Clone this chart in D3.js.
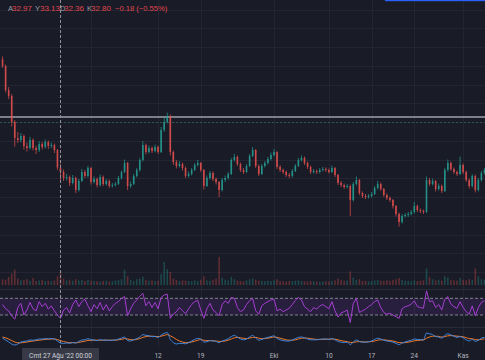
<!DOCTYPE html>
<html><head><meta charset="utf-8">
<script src="https://cdn.jsdelivr.net/npm/d3@7"></script>
<style>html,body{margin:0;padding:0;background:#191b26;overflow:hidden}svg{display:block}</style>
</head><body>
<svg id="c" width="485" height="360"></svg>
<script>
// ---------- data (12h candles starting 17 Aug 2022 12:00) ----------
const firstCandle = "2022-08-17T12:00:00Z";
const candleHours = 12;
const opens = [
37.30,37.04,36.08,35.84,34.80,34.16,34.08,34.24,33.84,33.76,
34.08,33.76,33.68,33.92,33.80,34.00,33.84,33.88,33.68,32.97,
32.80,32.56,32.60,32.36,32.56,32.08,32.44,32.80,32.64,32.96,
32.40,32.52,32.28,32.60,32.32,32.44,32.24,32.28,32.32,32.56,
32.80,33.16,32.24,32.32,32.64,32.88,33.28,33.88,33.60,33.76,
33.64,33.80,33.60,34.48,34.80,35.04,33.60,33.20,33.04,33.12,
32.96,32.64,32.72,32.88,33.08,33.16,32.88,32.24,32.56,32.76,
32.52,32.40,32.08,32.48,32.56,32.72,33.28,33.40,33.12,32.88,
32.80,33.04,33.44,33.68,33.04,32.72,33.04,33.16,33.32,33.48,
33.60,33.00,32.88,32.80,32.68,32.64,32.84,33.04,33.28,33.36,
33.16,33.00,32.80,32.84,32.80,32.88,32.92,32.88,32.80,32.96,
32.68,32.36,32.28,32.20,32.24,31.68,32.32,32.48,31.96,31.84,
31.80,31.84,31.92,32.16,32.32,32.12,31.88,31.76,31.68,31.44,
31.12,30.80,31.04,31.08,31.12,31.20,31.44,31.28,31.24,31.20,
32.48,32.32,32.44,32.12,32.24,32.04,32.88,33.16,32.92,32.80,
32.72,33.08,32.80,32.48,32.24,32.64,32.08,32.48,32.76];
const highs = [
37.42,37.10,36.20,35.92,34.88,34.40,34.36,34.30,33.98,34.20,
34.14,33.86,34.04,34.00,34.10,34.06,33.98,33.94,33.72,33.13,
32.90,32.72,32.66,32.68,32.62,32.52,32.92,32.88,33.04,33.00,
32.62,32.58,32.70,32.66,32.52,32.50,32.36,32.40,32.64,32.86,
33.30,33.20,32.42,32.72,32.96,33.36,34.04,33.94,33.86,33.82,
33.90,33.86,34.60,34.98,35.18,35.10,33.66,33.28,33.24,33.18,
33.02,32.82,32.96,33.16,33.28,33.20,32.92,32.66,32.84,32.82,
32.58,32.44,32.56,32.66,32.80,33.36,33.52,33.46,33.18,32.96,
33.12,33.52,33.80,33.72,33.10,33.12,33.24,33.40,33.58,33.72,
33.64,33.08,32.94,32.86,32.76,32.92,33.12,33.36,33.46,33.42,
33.22,33.06,32.92,32.90,32.96,33.00,32.98,32.94,33.06,33.00,
32.72,32.44,32.34,32.32,32.30,32.40,32.62,32.52,32.02,31.92,
31.92,32.00,32.24,32.44,32.38,32.16,31.94,31.82,31.72,31.48,
31.18,31.12,31.16,31.20,31.28,31.60,31.50,31.34,31.30,32.62,
32.56,32.54,32.48,32.34,32.30,32.96,33.30,33.22,32.98,32.86,
33.42,33.14,32.86,32.54,32.72,32.70,32.56,32.84,32.96];
const lows = [
36.96,35.98,35.72,34.62,33.82,33.96,33.98,33.70,33.62,33.70,
33.66,33.52,33.60,33.70,33.74,33.72,33.76,33.56,32.88,32.36,
32.44,32.46,32.24,32.30,31.96,32.02,32.40,32.56,32.58,32.30,
32.34,32.18,32.22,32.24,32.26,32.16,32.18,32.22,32.28,32.50,
32.76,32.08,32.16,32.28,32.58,32.82,33.22,33.50,33.54,33.56,
33.58,33.52,33.56,34.40,34.74,33.46,33.08,32.94,32.98,32.86,
32.56,32.58,32.66,32.84,33.02,32.80,32.10,32.20,32.50,32.44,
32.30,31.80,32.02,32.40,32.50,32.68,33.22,33.04,32.80,32.72,
32.76,33.00,33.40,32.96,32.64,32.68,32.98,33.10,33.26,33.42,
32.92,32.80,32.72,32.60,32.56,32.58,32.80,33.00,33.22,33.08,
32.92,32.72,32.74,32.72,32.74,32.82,32.80,32.74,32.76,32.60,
32.28,32.20,32.12,32.14,31.04,31.62,32.26,31.88,31.76,31.72,
31.74,31.78,31.88,32.10,32.04,31.80,31.68,31.60,31.34,31.02,
30.62,30.74,30.98,31.00,31.06,31.14,31.20,31.16,31.12,31.16,
32.24,32.26,32.02,32.06,31.96,32.00,32.82,32.84,32.72,32.64,
32.68,32.72,32.40,32.14,32.18,31.98,32.02,32.42,32.70];
const closes = [
37.04,36.08,35.84,34.80,34.16,34.08,34.24,33.84,33.76,34.08,
33.76,33.68,33.92,33.80,34.00,33.84,33.88,33.68,32.98,32.80,
32.56,32.60,32.36,32.56,32.08,32.44,32.80,32.64,32.96,32.40,
32.52,32.28,32.60,32.32,32.44,32.24,32.28,32.32,32.56,32.80,
33.16,32.24,32.32,32.64,32.88,33.28,33.88,33.60,33.76,33.64,
33.80,33.60,34.48,34.80,35.04,33.60,33.20,33.04,33.12,32.96,
32.64,32.72,32.88,33.08,33.16,32.88,32.24,32.56,32.76,32.52,
32.40,32.08,32.48,32.56,32.72,33.28,33.40,33.12,32.88,32.80,
33.04,33.44,33.68,33.04,32.72,33.04,33.16,33.32,33.48,33.60,
33.00,32.88,32.80,32.68,32.64,32.84,33.04,33.28,33.36,33.16,
33.00,32.80,32.84,32.80,32.88,32.92,32.88,32.80,32.96,32.68,
32.36,32.28,32.20,32.24,31.68,32.32,32.48,31.96,31.84,31.80,
31.84,31.92,32.16,32.32,32.12,31.88,31.76,31.68,31.44,31.12,
30.80,31.04,31.08,31.12,31.20,31.44,31.28,31.24,31.20,32.48,
32.32,32.44,32.12,32.24,32.04,32.88,33.16,32.92,32.80,32.72,
33.08,32.80,32.48,32.24,32.64,32.08,32.48,32.76,32.88];
const volumes = [
20,18,28,40,53,22,16,18,20,15,
24,14,16,18,14,15,13,16,30,47,
22,16,18,15,20,16,17,14,18,15,
14,13,12,14,15,12,13,16,18,20,
53,30,18,14,20,22,28,18,15,16,
14,15,38,80,55,45,22,18,14,16,
15,14,13,16,14,18,30,16,15,18,
22,97,25,18,16,28,20,15,14,13,
16,20,22,18,15,14,13,15,14,16,
20,14,13,12,14,13,15,16,14,13,
12,14,13,12,11,12,13,12,14,16,
22,18,15,16,47,26,18,20,14,15,
13,14,16,18,15,14,16,15,18,20,
24,18,15,14,13,16,14,15,16,57,
28,20,16,18,15,30,26,18,16,15,
24,18,16,20,18,57,30,20,18];
const rsiValues = [
55,45,40,28,20,48,58,30,42,60,
45,40,62,50,58,44,52,40,30,22,
42,48,35,55,66,50,62,68,52,38,
55,45,60,42,55,40,50,58,62,70,
74,28,45,58,66,75,82,52,62,48,
60,45,72,78,80,22,32,38,48,40,
33,45,55,62,65,42,22,45,58,42,
36,28,55,64,58,72,70,48,38,42,
55,64,70,40,32,52,58,62,66,68,
40,44,38,42,46,55,65,72,66,50,
44,38,48,44,52,55,50,45,62,40,
25,35,38,42,12,58,70,36,40,44,
50,55,62,66,48,36,32,34,30,26,
22,45,50,52,56,64,50,48,46,88,
62,64,48,55,42,68,74,56,50,46,
62,48,38,32,52,28,48,60,64];
const macdValues = [
0.05,-0.05,-0.15,-0.25,-0.30,-0.25,-0.15,-0.12,-0.10,-0.05,
-0.06,-0.04,0.00,0.00,0.02,0.01,0.02,0.00,-0.10,-0.20,
-0.22,-0.20,-0.22,-0.18,-0.20,-0.12,-0.05,-0.04,0.02,-0.04,
-0.05,-0.08,-0.04,-0.06,-0.05,-0.07,-0.06,-0.05,0.00,0.04,
0.10,-0.08,-0.10,-0.04,0.02,0.10,0.22,0.18,0.16,0.12,
0.12,0.08,0.20,0.28,0.32,-0.02,-0.18,-0.25,-0.22,-0.22,
-0.24,-0.18,-0.10,-0.02,0.03,0.00,-0.15,-0.14,-0.08,-0.10,
-0.12,-0.18,-0.10,-0.05,0.02,0.12,0.18,0.10,0.00,-0.04,
0.00,0.10,0.18,0.05,-0.06,-0.02,0.04,0.08,0.12,0.16,
0.02,-0.04,-0.08,-0.10,-0.10,-0.05,0.02,0.08,0.10,0.06,
0.00,-0.04,-0.04,-0.04,-0.02,0.00,0.00,-0.02,0.02,-0.04,
-0.12,-0.16,-0.18,-0.16,-0.28,-0.15,-0.05,-0.12,-0.16,-0.16,
-0.14,-0.10,-0.02,0.04,0.00,-0.06,-0.10,-0.12,-0.16,-0.22,
-0.28,-0.20,-0.15,-0.10,-0.06,0.00,-0.02,-0.03,-0.04,0.30,
0.26,0.22,0.12,0.10,0.04,0.18,0.26,0.20,0.14,0.08,
0.12,0.06,-0.04,-0.10,-0.02,-0.12,-0.06,0.04,0.08];
const signalValues = [
0.10,0.06,0.00,-0.08,-0.15,-0.19,-0.19,-0.17,-0.15,-0.12,
-0.10,-0.08,-0.06,-0.04,-0.02,-0.01,0.00,0.00,-0.03,-0.08,
-0.13,-0.16,-0.18,-0.18,-0.19,-0.17,-0.14,-0.11,-0.07,-0.06,
-0.06,-0.06,-0.06,-0.06,-0.06,-0.06,-0.06,-0.06,-0.04,-0.02,
0.02,0.00,-0.03,-0.04,-0.02,0.02,0.08,0.12,0.14,0.14,
0.13,0.12,0.14,0.18,0.22,0.16,0.08,-0.02,-0.10,-0.15,
-0.18,-0.18,-0.15,-0.11,-0.06,-0.03,-0.06,-0.08,-0.08,-0.09,
-0.10,-0.12,-0.12,-0.10,-0.06,0.00,0.06,0.08,0.06,0.03,
0.02,0.04,0.08,0.08,0.04,0.02,0.02,0.04,0.07,0.10,
0.08,0.04,0.00,-0.04,-0.06,-0.06,-0.04,0.00,0.04,0.05,
0.04,0.02,0.00,-0.02,-0.02,-0.02,-0.01,-0.01,0.00,-0.01,
-0.04,-0.08,-0.11,-0.13,-0.17,-0.17,-0.14,-0.13,-0.14,-0.15,
-0.14,-0.13,-0.10,-0.06,-0.04,-0.04,-0.06,-0.08,-0.10,-0.14,
-0.18,-0.19,-0.18,-0.16,-0.13,-0.09,-0.07,-0.06,-0.05,0.04,
0.10,0.14,0.14,0.13,0.10,0.12,0.16,0.17,0.16,0.14,
0.13,0.11,0.07,0.02,0.01,-0.03,-0.04,-0.02,0.01];
const tickDates = ["2022-09-01","2022-09-12","2022-09-19","2022-10-01","2022-10-10","2022-10-17","2022-10-24","2022-11-01"];
const gridPrices = [39.30,38.55,37.80,37.05,36.30,35.55,34.80,34.05,33.30,32.55,31.80,31.05,30.30,29.55,28.80];
const levelPrice = 35.00;
const dottedPrice = 34.80;
const crosshairIndex = 19;
const legendLabels = ["A","Y","D","K"];
const rsiBands = [70, 30];

// ---------- locale ----------
const tr = d3.timeFormatLocale({
  dateTime:"%a %e %b %Y %X", date:"%d.%m.%Y", time:"%H:%M:%S", periods:["",""],
  days:["Pazar","Pazartesi","Salı","Çarşamba","Perşembe","Cuma","Cumartesi"],
  shortDays:["Paz","Pzt","Sal","Çar","Per","Cum","Cmt"],
  months:["Ocak","Şubat","Mart","Nisan","Mayıs","Haziran","Temmuz","Ağustos","Eylül","Ekim","Kasım","Aralık"],
  shortMonths:["Oca","Şub","Mar","Nis","May","Haz","Tem","Ağu","Eyl","Eki","Kas","Ara"]
});
const fmtMonth = tr.utcFormat("%b"), fmtDay = tr.utcFormat("%-d");
const fmtCross = tr.utcFormat("%a %d %b '%y  %H:%M");

// ---------- setup ----------
const W = 485, H = 360;
const svg = d3.select("#c");
const C = {bg:"#191b26", grid:"#232632", sep:"#2a2d39", up:"#26a69a", down:"#ef5350",
  text:"#b2b5be", rsi:"#a43fcf", macd:"#3f86e0", signal:"#f07a2a"};
svg.append("rect").attr("width",W).attr("height",H).attr("fill",C.bg);

const t0 = new Date(firstCandle).getTime();
const dates = closes.map((_, i) => new Date(t0 + i * candleHours * 3600e3));
const x = d3.scaleUtc().domain([new Date("2022-08-27T00:00:00Z"), new Date("2022-11-01T00:00:00Z")]).range([60.5, 463.1]);
const y = d3.scaleLinear().domain([30, 38]).range([242, 42]);
const yVol = d3.scaleLinear().domain([0, 100]).range([285, 256]);
const yRsi = d3.scaleLinear().domain([30, 70]).range([315, 298.3]);
const yMacd = d3.scaleLinear().domain([-0.4, 0.4]).range([347, 331]);
const ticks = tickDates.map(d => new Date(d + "T00:00:00Z"));

// grid
const grid = svg.append("g").attr("stroke", C.grid).attr("stroke-width", 1);
grid.selectAll("line.h").data(gridPrices).join("line").attr("class","h")
  .attr("x1",0).attr("x2",W).attr("y1",d=>Math.round(y(d))+0.5).attr("y2",d=>Math.round(y(d))+0.5);
grid.selectAll("line.v").data(ticks).join("line").attr("class","v")
  .attr("x1",d=>Math.round(x(d))+0.5).attr("x2",d=>Math.round(x(d))+0.5).attr("y1",0).attr("y2",347);

// pane separators
svg.selectAll("line.sep").data([289, 327]).join("line").attr("class","sep")
  .attr("x1",0).attr("x2",W).attr("y1",d=>d+0.5).attr("y2",d=>d+0.5).attr("stroke",C.sep);

// level lines
svg.append("line").attr("x1",0).attr("x2",W).attr("y1",y(levelPrice)).attr("y2",y(levelPrice))
  .attr("stroke","#9fa2ab").attr("stroke-width",1.6);
svg.append("line").attr("x1",0).attr("x2",W).attr("y1",Math.round(y(dottedPrice))+0.5).attr("y2",Math.round(y(dottedPrice))+0.5)
  .attr("stroke","#2c5652").attr("stroke-width",1).attr("stroke-dasharray","2,2");

// volume
const bars = closes.map((c, i) => ({i, o:opens[i], h:highs[i], l:lows[i], c, v:volumes[i], d:dates[i]}));
svg.append("g").selectAll("rect").data(bars).join("rect")
  .attr("x", d => x(d.d) - 0.8).attr("width", 1.6)
  .attr("y", d => yVol(d.v)).attr("height", d => yVol(0) - yVol(d.v))
  .attr("fill", d => d.c >= d.o ? C.up : C.down).attr("opacity", 0.32);

// candles
const cg = svg.append("g").attr("opacity", 0.85);
cg.selectAll("line").data(bars).join("line")
  .attr("x1", d => x(d.d)).attr("x2", d => x(d.d))
  .attr("y1", d => y(d.h)).attr("y2", d => y(d.l))
  .attr("stroke", d => d.c >= d.o ? C.up : C.down).attr("stroke-width", 0.8);
cg.selectAll("rect").data(bars).join("rect")
  .attr("x", d => x(d.d) - 0.8).attr("width", 1.6)
  .attr("y", d => y(Math.max(d.o, d.c))).attr("height", d => Math.max(1, Math.abs(y(d.o) - y(d.c))))
  .attr("fill", d => d.c >= d.o ? C.up : C.down);

// RSI
svg.append("rect").attr("x",0).attr("width",W).attr("y",yRsi(rsiBands[0])).attr("height",yRsi(rsiBands[1])-yRsi(rsiBands[0]))
  .attr("fill","rgba(126,50,194,0.16)");
svg.selectAll("line.band").data(rsiBands).join("line").attr("class","band")
  .attr("x1",0).attr("x2",W).attr("y1",d=>yRsi(d)).attr("y2",d=>yRsi(d))
  .attr("stroke","#8d909a").attr("stroke-dasharray","3,2").attr("stroke-width",0.9);
svg.append("path").datum(rsiValues)
  .attr("d", d3.line().x((_, i) => x(dates[i])).y(v => yRsi(v)))
  .attr("fill","none").attr("stroke",C.rsi).attr("stroke-width",1);

// MACD
[[signalValues, C.signal], [macdValues, C.macd]].forEach(([arr, col]) => {
  svg.append("path").datum(arr)
    .attr("d", d3.line().x((_, i) => x(dates[i])).y(v => yMacd(v)).curve(d3.curveMonotoneX))
    .attr("fill","none").attr("stroke",col).attr("stroke-width",1);
});

// crosshair
const cx = x(dates[crosshairIndex]);
const boxW = 77, boxL = cx - boxW / 2, boxR = cx + boxW / 2;

// time axis labels (those hidden under the crosshair label are skipped)
svg.append("g").selectAll("text").data(ticks.filter(d => x(d) < boxL - 8 || x(d) > boxR + 8)).join("text")
  .attr("x", d => x(d)).attr("y", 357.5).attr("text-anchor","middle")
  .attr("font-family","Roboto, sans-serif").attr("font-size",6.6).attr("fill",C.text)
  .text(d => d.getUTCDate() === 1 ? fmtMonth(d) : fmtDay(d));

svg.append("line").attr("x1",cx).attr("x2",cx).attr("y1",0).attr("y2",348)
  .attr("stroke","#8f929b").attr("stroke-width",1).attr("stroke-dasharray","3,2");
svg.append("rect").attr("x",boxL).attr("y",348).attr("width",boxW).attr("height",13).attr("fill","#373a46");
svg.append("text").attr("x",cx).attr("y",357.5).attr("text-anchor","middle")
  .attr("font-family","Roboto, sans-serif").attr("font-size",6.6).attr("fill","#d1d4dc")
  .text(fmtCross(dates[crosshairIndex]));

// legend
const k = crosshairIndex;
const vals = [opens[k], highs[k], lows[k], closes[k]];
const chg = closes[k] - closes[k-1], pct = chg / closes[k-1] * 100;
const minus = s => s.replace("-", "\u2212");
const legendColor = closes[k] >= opens[k] ? C.up : "#e0474f";
const labelX = [8, 35, 60, 87], valueX = [12, 40, 64, 91];
const lg = svg.append("g").attr("font-family","'Liberation Sans', Arial, sans-serif").attr("font-size",7.6);
legendLabels.forEach((lab, i) => {
  lg.append("text").attr("x",labelX[i]).attr("y",10.5).attr("fill","#9a9da6").text(lab);
  lg.append("text").attr("x",valueX[i]).attr("y",10.5).attr("fill",legendColor)
    .attr("textLength",20).attr("lengthAdjust","spacingAndGlyphs").text(vals[i].toFixed(2));
});
lg.append("text").attr("x",115).attr("y",10.5).attr("fill",legendColor)
  .text(minus(chg.toFixed(2)) + " (" + minus(pct.toFixed(2)) + "%)");

// top accent
svg.append("rect").attr("x",385).attr("y",0).attr("width",100).attr("height",1.2).attr("fill","#2962ff");
</script>
</body></html>
